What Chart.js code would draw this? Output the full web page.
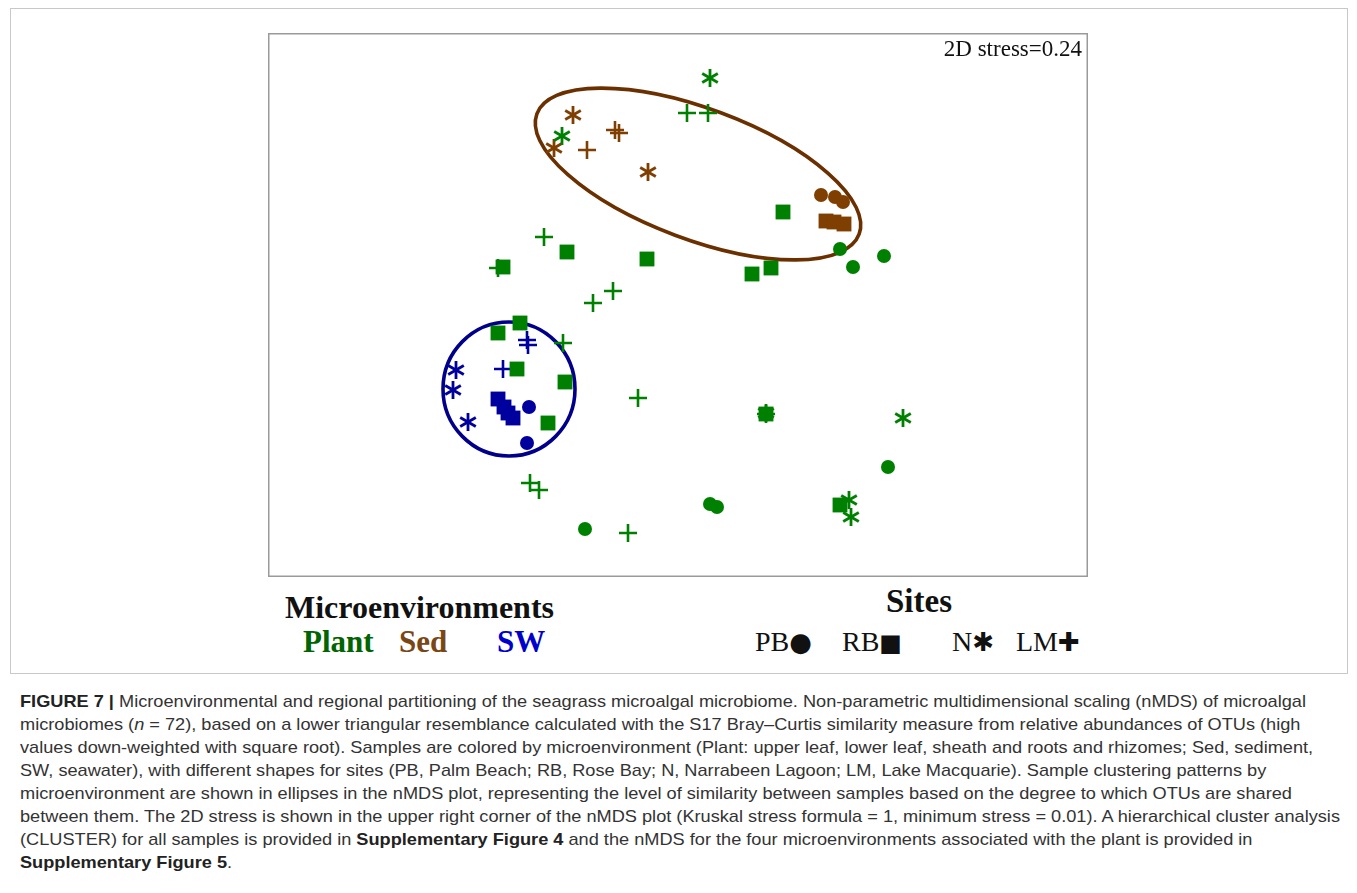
<!DOCTYPE html>
<html>
<head>
<meta charset="utf-8">
<script src="https://cdn.jsdelivr.net/npm/chart.js@4.4.0/dist/chart.umd.min.js"></script>
<style>
  body { margin: 0; width: 1357px; height: 893px; background: #fff; position: relative; overflow: hidden; font-family: "Liberation Serif", serif; }
  #frame { position: absolute; left: 10px; top: 8px; width: 1336px; height: 664px; border: 1px solid #c8c8c8; }
  #plot { position: absolute; left: 268px; top: 33px; width: 820px; height: 544px; }
  .lg { position: absolute; white-space: nowrap; line-height: 1; }
  .ttl { font-weight: bold; color: #111; }
  .env { font-weight: bold; font-size: 31px; }
  .site { font-size: 28px; color: #111; }
  .sym { font-family: "DejaVu Sans", sans-serif; }
  #caption { position: absolute; left: 20px; top: 690px; font-family: "Liberation Sans Narrow", "Liberation Sans", sans-serif; font-size: 17px; line-height: 23px; color: #333; white-space: nowrap; transform-origin: 0 0; }
  #caption b { color: #222; }
</style>
</head>
<body>
<div id="frame"></div>
<div id="plot"><canvas id="nmds" width="820" height="544"></canvas></div>

<div class="lg ttl" style="left:285px;top:591px;font-size:32px;">Microenvironments</div>
<div class="lg env" id="env0" style="left:303px;top:626px;"></div>
<div class="lg env" id="env1" style="left:399px;top:626px;"></div>
<div class="lg env" id="env2" style="left:497px;top:626px;"></div>

<div class="lg ttl" style="left:886px;top:585px;font-size:33px;">Sites</div>
<div class="lg site" id="site0" style="left:755px;top:628px;"></div>
<div class="lg site" id="site1" style="left:842px;top:628px;"></div>
<div class="lg site" id="site2" style="left:952px;top:628px;"></div>
<div class="lg site" id="site3" style="left:1016px;top:628px;"></div>

<div id="caption">
  <div><b>FIGURE 7 |</b> Microenvironmental and regional partitioning of the seagrass microalgal microbiome. Non-parametric multidimensional scaling (nMDS) of microalgal</div>
  <div>microbiomes (<i>n</i> = 72), based on a lower triangular resemblance calculated with the S17 Bray–Curtis similarity measure from relative abundances of OTUs (high</div>
  <div>values down-weighted with square root). Samples are colored by microenvironment (Plant: upper leaf, lower leaf, sheath and roots and rhizomes; Sed, sediment,</div>
  <div>SW, seawater), with different shapes for sites (PB, Palm Beach; RB, Rose Bay; N, Narrabeen Lagoon; LM, Lake Macquarie). Sample clustering patterns by</div>
  <div>microenvironment are shown in ellipses in the nMDS plot, representing the level of similarity between samples based on the degree to which OTUs are shared</div>
  <div id="capLong">between them. The 2D stress is shown in the upper right corner of the nMDS plot (Kruskal stress formula = 1, minimum stress = 0.01). A hierarchical cluster analysis</div>
  <div>(CLUSTER) for all samples is provided in <b>Supplementary Figure 4</b> and the nMDS for the four microenvironments associated with the plant is provided in</div>
  <div><b>Supplementary Figure 5</b>.</div>
</div>

<script>
// nMDS coordinates [x, y]
const plantPB = [[0.81, 0.28], [0.875, 0.19], [1.03, 0.245], [1.05, -0.81], [-0.465, -1.12], [0.16, -0.995], [0.195, -1.01], [0.44, -0.545], [0.81, -1.0]];
const plantRB = [[0.525, 0.465], [0.37, 0.155], [0.465, 0.185], [-0.555, 0.265], [-0.875, 0.19], [-0.155, 0.23], [-0.9, -0.14], [-0.79, -0.09], [-0.805, -0.32], [-0.565, -0.385], [-0.65, -0.59], [0.44, -0.545], [0.81, -1.0]];
const plantN  = [[-0.58, 0.845], [0.16, 1.135], [1.125, -0.565], [0.855, -0.975], [0.865, -1.06], [0.44, -0.54]];
const plantLM = [[0.045, 0.96], [0.15, 0.96], [-0.67, 0.34], [-0.9, 0.185], [-0.325, 0.07], [-0.425, 0.01], [-0.575, -0.19], [-0.2, -0.465], [-0.74, -0.89], [-0.695, -0.925], [-0.25, -1.14], [0.44, -0.545]];

const sedPB = [[0.715, 0.55], [0.785, 0.54], [0.825, 0.515]];
const sedRB = [[0.74, 0.42], [0.78, 0.415], [0.83, 0.405]];
const sedN  = [[-0.525, 0.95], [-0.62, 0.785], [-0.15, 0.665]];
const sedLM = [[-0.455, 0.775], [-0.315, 0.875], [-0.295, 0.86]];

const swPB = [[-0.745, -0.51], [-0.755, -0.69]];
const swRB = [[-0.9, -0.47], [-0.87, -0.51], [-0.85, -0.54], [-0.825, -0.565]];
const swN  = [[-1.11, -0.325], [-1.125, -0.425], [-1.05, -0.585]];
const swLM = [[-0.755, -0.175], [-0.75, -0.2], [-0.875, -0.32]];

const envLabels = ['Plant', 'Sed', 'SW'];
const siteLabels = ['PB', 'RB', 'N', 'LM'];
const siteGlyphs = ['●', '■', '✱', '✚'];
const siteGlyphSize = [26, 24, 26, 26];
const stressLabel = '2D stress=0.24';

// cluster ellipses: centre, semi-axes, tilt (degrees, data space)
const ellipseCx = [0.1, -0.845];
const ellipseCy = [0.655, -0.42];
const ellipseRx = [0.86, 0.33];
const ellipseRy = [0.327, 0.335];
const ellipseAngle = [-20.5, 0];

const envColors = ['#008000', '#7f3f00', '#00009e'];
const envTextColors = ['#006400', '#7a4614', '#0000cc'];
const ellipseColors = ['#6b3000', '#00008b'];

envLabels.forEach((t, i) => {
  const el = document.getElementById('env' + i);
  el.textContent = t;
  el.style.color = envTextColors[i];
});
siteLabels.forEach((t, i) => {
  const el = document.getElementById('site' + i);
  el.innerHTML = t + '<span class="sym" style="font-size:' + siteGlyphSize[i] + 'px">' + siteGlyphs[i] + '</span>';
});

function asterisk(color) {
  const c = document.createElement('canvas');
  c.width = 22; c.height = 22;
  const g = c.getContext('2d');
  g.strokeStyle = color;
  g.lineWidth = 2.8;
  g.translate(11, 11);
  for (let k = 0; k < 3; k++) {
    const t = Math.PI / 2 + k * Math.PI / 3;
    g.beginPath();
    g.moveTo(9 * Math.cos(t), 9 * Math.sin(t));
    g.lineTo(-9 * Math.cos(t), -9 * Math.sin(t));
    g.stroke();
  }
  return c;
}

function makeSet(points, envIdx, siteIdx) {
  const color = envColors[envIdx];
  const base = {
    data: points.map(p => ({ x: p[0], y: p[1] })),
    backgroundColor: color,
    borderColor: color,
    borderWidth: 0
  };
  if (siteIdx === 0) return { ...base, pointStyle: 'circle', pointRadius: 7 };
  if (siteIdx === 1) return { ...base, pointStyle: 'rect', pointRadius: 10.5 };
  if (siteIdx === 2) return { ...base, pointStyle: asterisk(color), pointRadius: 10 };
  return { ...base, pointStyle: 'cross', pointRadius: 9, borderWidth: 2.6 };
}

const datasets = [
  makeSet(plantPB, 0, 0), makeSet(plantRB, 0, 1), makeSet(plantN, 0, 2), makeSet(plantLM, 0, 3),
  makeSet(sedPB, 1, 0), makeSet(sedRB, 1, 1), makeSet(sedN, 1, 2), makeSet(sedLM, 1, 3),
  makeSet(swPB, 2, 0), makeSet(swRB, 2, 1), makeSet(swN, 2, 2), makeSet(swLM, 2, 3)
];

const overlay = {
  id: 'overlay',
  beforeDatasetsDraw(chart) {
    const { ctx, scales: { x, y } } = chart;
    ctx.save();
    ellipseCx.forEach((cxv, i) => {
      const cx = x.getPixelForValue(cxv), cy = y.getPixelForValue(ellipseCy[i]);
      const rx = Math.abs(x.getPixelForValue(cxv + ellipseRx[i]) - cx);
      const ry = Math.abs(y.getPixelForValue(ellipseCy[i] + ellipseRy[i]) - cy);
      ctx.beginPath();
      ctx.ellipse(cx, cy, rx, ry, -ellipseAngle[i] * Math.PI / 180, 0, 2 * Math.PI);
      ctx.strokeStyle = ellipseColors[i];
      ctx.lineWidth = 3.6;
      ctx.stroke();
    });
    ctx.restore();
  },
  afterDraw(chart) {
    const { ctx, chartArea: a } = chart;
    ctx.save();
    ctx.strokeStyle = '#9a9a9a';
    ctx.lineWidth = 1.5;
    ctx.strokeRect(a.left + 0.75, a.top + 0.75, a.width - 1.5, a.height - 1.5);
    ctx.fillStyle = '#111';
    ctx.font = '23px "Liberation Serif"';
    ctx.textAlign = 'right';
    ctx.textBaseline = 'alphabetic';
    ctx.fillText(stressLabel, a.right - 6, a.top + 23);
    ctx.restore();
  }
};

new Chart(document.getElementById('nmds'), {
  type: 'scatter',
  data: { datasets },
  options: {
    responsive: false,
    animation: false,
    layout: { padding: 0, autoPadding: false },
    plugins: { legend: { display: false }, tooltip: { enabled: false } },
    scales: {
      x: { type: 'linear', min: -2.05, max: 2.05, display: false },
      y: { type: 'linear', min: -1.36, max: 1.36, display: false }
    }
  },
  plugins: [overlay]
});

// squeeze caption to the width of the original column
const cap = document.getElementById('caption');
const range = document.createRange();
range.selectNodeContents(document.getElementById('capLong'));
const natural = range.getBoundingClientRect().width;
cap.style.transform = 'scaleX(' + (1320 / natural) + ')';
</script>
</body>
</html>
